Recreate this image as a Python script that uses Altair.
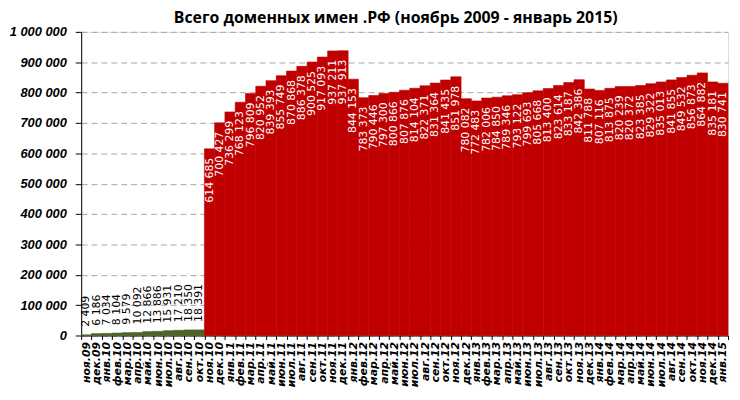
import altair as alt
import pandas as pd

months = [
    "ноя.09", "дек.09",
    "янв.10", "фев.10", "мар.10", "апр.10", "май.10", "июн.10", "июл.10", "авг.10", "сен.10", "окт.10", "ноя.10", "дек.10",
    "янв.11", "фев.11", "мар.11", "апр.11", "май.11", "июн.11", "июл.11", "авг.11", "сен.11", "окт.11", "ноя.11", "дек.11",
    "янв.12", "фев.12", "мар.12", "апр.12", "май.12", "июн.12", "июл.12", "авг.12", "сен.12", "окт.12", "ноя.12", "дек.12",
    "янв.13", "фев.13", "мар.13", "апр.13", "май.13", "июн.13", "июл.13", "авг.13", "сен.13", "окт.13", "ноя.13", "дек.13",
    "янв.14", "фев.14", "мар.14", "апр.14", "май.14", "июн.14", "июл.14", "авг.14", "сен.14", "окт.14", "ноя.14", "дек.14",
    "янв.15",
]

values = [
    2409, 6186,
    7034, 8104, 9579, 10092, 12866, 13886, 15931, 17210, 18350, 18391, 614685, 700427,
    736299, 768123, 796809, 820952, 839393, 855749, 870868, 886378, 900525, 917093, 937211, 937913,
    844153, 783373, 790446, 797300, 800866, 807876, 814104, 822371, 831364, 841435, 851978, 780082,
    772483, 782006, 784850, 789346, 793122, 799693, 805668, 813400, 823614, 833187, 842386, 811788,
    807116, 813875, 820239, 820372, 823385, 829322, 835013, 841855, 849532, 856873, 864882, 835181,
    830741,
]

phase = ["тест"] * 12 + ["открытая"] * 51

y_ticks = [0, 100000, 200000, 300000, 400000, 500000, 600000, 700000, 800000, 900000, 1000000]

title = "Всего доменных имен .РФ (ноябрь 2009 - январь 2015)"

df = pd.DataFrame({
    "month": months,
    "value": values,
    "phase": phase,
    "label": [f"{v:,}".replace(",", " ") for v in values],
})

x_enc = alt.X(
    "month:N",
    sort=months,
    scale=alt.Scale(paddingInner=0, paddingOuter=0),
    axis=alt.Axis(
        title=None,
        labelAngle=270,
        labelFont="DejaVu Sans",
        labelFontWeight="bold",
        labelFontStyle="italic",
        labelFontSize=11,
        labelColor="black",
        labelPadding=2,
        labelOverlap=False,
        tickBand="extent",
        tickColor="black",
        tickSize=4,
        domainColor="black",
        grid=False,
    ),
)

y_enc = alt.Y(
    "value:Q",
    scale=alt.Scale(domain=[0, 1000000], nice=False),
    axis=alt.Axis(
        title=None,
        values=y_ticks,
        labelExpr="replace(format(datum.value, ','), regexp(',', 'g'), ' ')",
        labelFont="Liberation Sans",
        labelFontWeight="bold",
        labelFontStyle="italic",
        labelFontSize=13,
        labelColor="black",
        labelPadding=9,
        labelOverlap=False,
        labelFlush=False,
        tickColor="black",
        tickSize=6,
        domainColor="black",
        grid=True,
        gridDash=[6, 4],
        gridColor="#A6A6A6",
        gridWidth=1,
    ),
)

base = alt.Chart(df)

color_scale = alt.Scale(domain=["тест", "открытая"], range=["#4F6228", "#C00000"])

bars = base.mark_bar(strokeWidth=0.6).encode(
    x=x_enc,
    y=y_enc,
    color=alt.Color("phase:N", scale=color_scale, legend=None),
    stroke=alt.Color("phase:N", scale=color_scale, legend=None),
)

labels_out = base.transform_filter(alt.datum.phase == "тест").mark_text(
    angle=270, align="left", baseline="middle", dx=8,
    font="DejaVu Sans", fontSize=11, color="black",
).encode(x=x_enc, y=y_enc, text="label:N")

labels_in = base.transform_filter(alt.datum.phase == "открытая").mark_text(
    angle=270, align="right", baseline="middle", dx=-9,
    font="DejaVu Sans", fontSize=11, color="white",
).encode(x=x_enc, y=y_enc, text="label:N")

chart = alt.layer(bars, labels_out, labels_in).properties(
    width=654,
    height=307,
    title=alt.TitleParams(
        text=title, font="Open Sans", fontSize=16, fontWeight="bold",
        anchor="middle", offset=0, color="black", dx=-9,
    ),
    autosize=alt.AutoSizeParams(type="none"),
    padding={"left": 74, "top": 22, "right": 4, "bottom": 55},
).configure_view(stroke=None).configure(background="white")

chart.save("out.html", embed_options={"renderer": "svg", "actions": False})
